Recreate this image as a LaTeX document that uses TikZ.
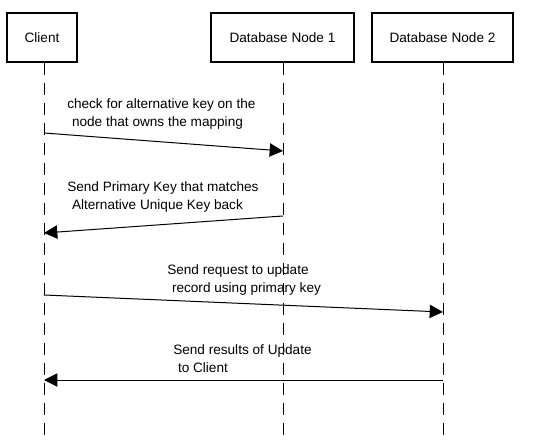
\documentclass[tikz,border=0pt]{standalone}
\usepackage{fontspec}
\setmainfont{Liberation Sans}
\usetikzlibrary{positioning, arrows.meta}

\tikzset{
    actor/.style={draw, line width=1.5pt, minimum width=52.5pt, minimum height=36.75pt, inner sep=0pt},
    lifeline/.style={line width=0.75pt, dash pattern=on 9pt off 6pt},
    msg/.style={line width=0.75pt, -{Triangle[length=10pt, width=10pt]}},
    msgtext/.style={anchor=west, align=left, inner sep=0pt}
}

\begin{document}
\begin{tikzpicture}[x=0.75pt, y=-0.75pt, font=\fontsize{10.2}{13.5}\selectfont]
    \useasboundingbox (0,0) rectangle (555,441);
    \node[actor] (client) at (42,37.5) {Client};
    \node[actor, minimum width=107.25pt] (db1) at (282.5,37.5) {Database Node 1};
    \node[actor, minimum width=105.75pt] (db2) at (442.5,37.5) {Database Node 2};
    \coordinate (clientEnd) at (44,441);
    \coordinate (db1End) at (283,441);
    \coordinate (db2End) at (443,441);
    \draw[lifeline] (client.south -| clientEnd) -- (clientEnd);
    \draw[lifeline] (db1.south -| db1End) -- (db1End);
    \draw[lifeline] (db2.south -| db2End) -- (db2End);
    % messages
    \coordinate (C1) at (44,133);
    \coordinate (D1) at (283,151);
    \coordinate (D2) at (283,216);
    \coordinate (C2) at (44,233);
    \coordinate (C3) at (44,295);
    \coordinate (E3) at (443,312);
    \coordinate (E4) at (443,380);
    \coordinate (C4) at (44,380);
    \draw[msg] (C1) -- (D1);
    \draw[msg] (D2) -- (C2);
    \draw[msg] (C3) -- (E3);
    \draw[msg] (E4) -- (C4);
    \node[msgtext] (t1) at (67,114) {check for alternative key on the\\\hspace*{0.35em}node that owns the mapping};
    \node[msgtext] (t2) at (67,197) {Send Primary Key that matches\\\hspace*{0.35em}Alternative Unique Key back};
    \node[msgtext] (t3) at (167,280) {Send request to update\\\hspace*{0.35em}record using primary key};
    \node[msgtext] (t4) at (173,359) {Send results of Update\\\hspace*{0.35em}to Client};
\end{tikzpicture}
\end{document}
